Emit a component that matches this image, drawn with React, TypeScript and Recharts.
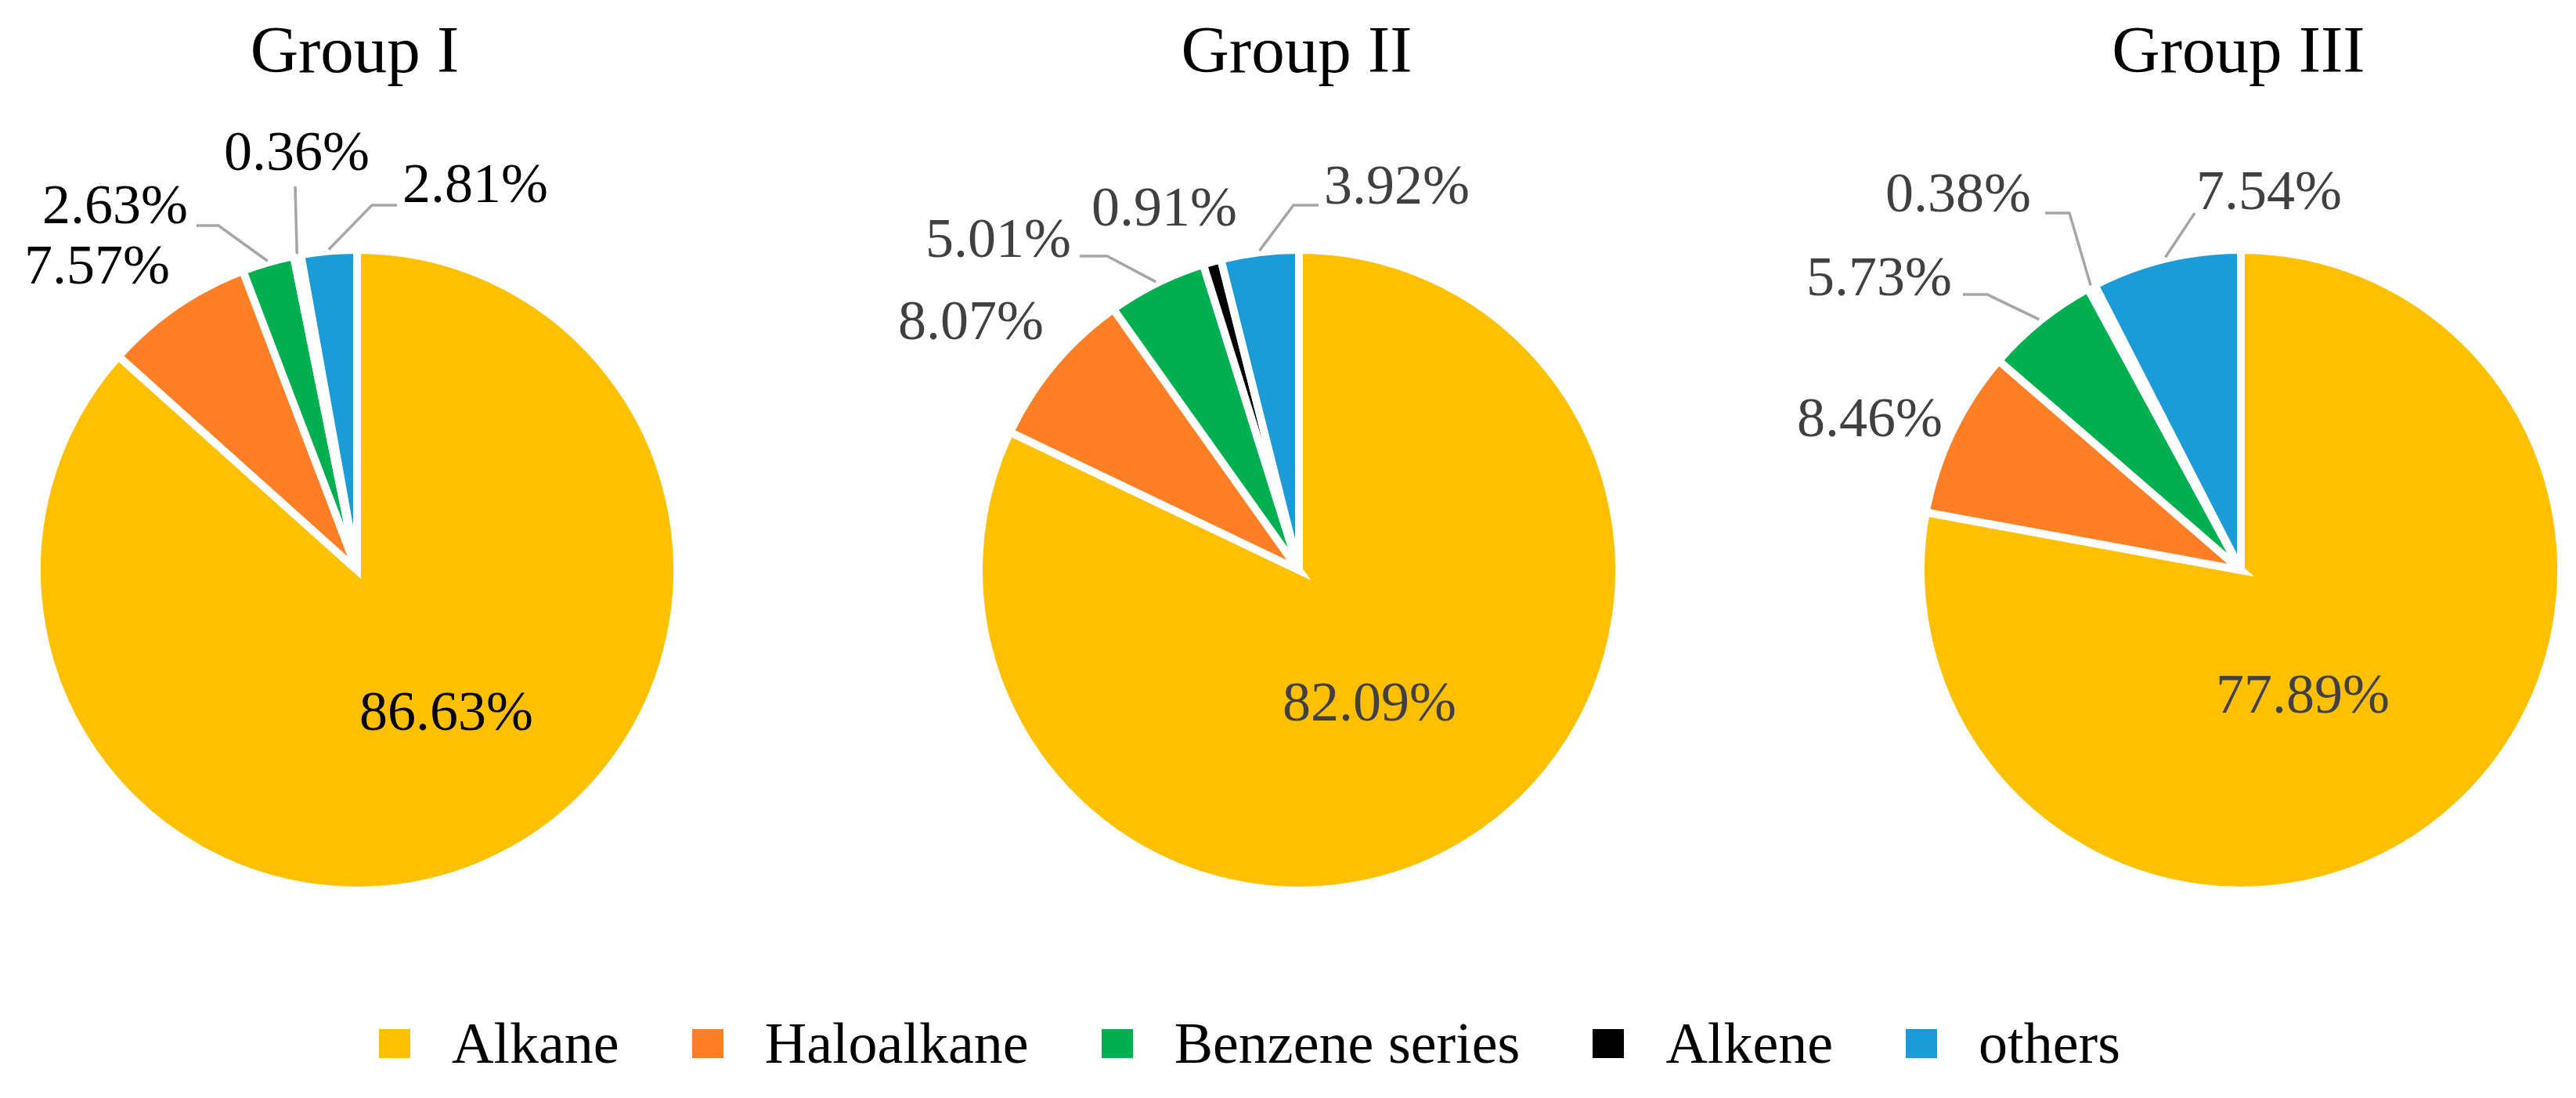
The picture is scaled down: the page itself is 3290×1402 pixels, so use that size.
import { PieChart, Pie, Cell, Legend } from "recharts";

const categories = ["Alkane", "Haloalkane", "Benzene series", "Alkene", "others"];
const colors = ["#FFC000", "#FF7F27", "#00B050", "#000000", "#1B9BD7"];
const groupNames = ["Group I", "Group II", "Group III"];
const groupI = [86.63, 7.57, 2.63, 0.36, 2.81];
const groupII = [82.09, 8.07, 5.01, 0.91, 3.92];
const groupIII = [77.89, 8.46, 5.73, 0.38, 7.54];

const W = 3290;
const H = 1402;
const FONT = "'Liberation Serif', 'Times New Roman', serif";
const RAD = Math.PI / 180;

// pie placement + label text colour
const pies = [
  { cx: 451, cy: 723, textColor: "#000000" },
  { cx: 1654, cy: 723, textColor: "#404040" },
  { cx: 2857, cy: 723, textColor: "#404040" },
];

type Callout = {
  at: [number, number];
  anchor: "start" | "middle" | "end";
  line?: [number, number][];
};

// hand-placed labels (offsets from pie centre), like the dragged Excel labels
const callouts: Callout[][] = [
  [
    { at: [114, 204], anchor: "middle" },
    { at: [-332, -366], anchor: "middle" },
    { at: [-216, -443], anchor: "end", line: [[-177, -440], [-205, -440]] },
    { at: [-77, -511], anchor: "middle", line: [[-79, -490]] },
    { at: [58, -470], anchor: "start", line: [[19, -466], [51, -466]] },
  ],
  [
    { at: [90, 192], anchor: "middle" },
    { at: [-419, -295], anchor: "middle" },
    { at: [-291, -400], anchor: "end", line: [[-245, -401], [-280, -401]] },
    { at: [-172, -440], anchor: "middle" },
    { at: [32, -468], anchor: "start", line: [[-7, -466], [25, -466]] },
  ],
  [
    { at: [79, 182], anchor: "middle" },
    { at: [-474, -171], anchor: "middle" },
    { at: [-369, -351], anchor: "end", line: [[-324, -352], [-355, -352]] },
    { at: [-268, -458], anchor: "end", line: [[-219, -456], [-250, -456]] },
    { at: [-57, -461], anchor: "start", line: [[-59, -456]] },
  ],
];

const fmt = (v: number) => `${v.toFixed(2)}%`;

function makeLabel(g: number) {
  const { textColor } = pies[g];
  return (props: any) => {
    const { cx, cy, midAngle, outerRadius, index, value } = props;
    const c = callouts[g][index];
    const edge = outerRadius + 2;
    const start = [cx + edge * Math.cos(-midAngle * RAD), cy + edge * Math.sin(-midAngle * RAD)];
    const pts = [start, ...(c.line || []).map(([x, y]) => [cx + x, cy + y])];
    return (
      <g>
        {c.line && (
          <polyline points={pts.map((p) => p.join(",")).join(" ")} fill="none" stroke="#A6A6A6" strokeWidth={3.5} />
        )}
        <text x={cx + c.at[0]} y={cy + c.at[1]} textAnchor={c.anchor} fontSize={72} fontFamily={FONT} fill={textColor}>
          {fmt(value)}
        </text>
      </g>
    );
  };
}

function LegendRow() {
  return (
    <div style={{ display: "flex", alignItems: "center", paddingLeft: 484, fontFamily: FONT, fontSize: 74, lineHeight: "82px", color: "#000" }}>
      {categories.map((name, i) => (
        <div key={name} style={{ display: "flex", alignItems: "center", marginLeft: i === 0 ? 0 : 93 }}>
          <span style={{ display: "inline-block", width: 40, height: 37, background: colors[i], marginRight: 53 }} />
          <span>{name}</span>
        </div>
      ))}
    </div>
  );
}

export default function App() {
  const series = [groupI, groupII, groupIII];
  return (
    <div style={{ position: "absolute", left: 0, top: 0, width: W, height: H, background: "#fff" }}>
      <PieChart width={W} height={H}>
        {series.map((vals, g) => (
          <Pie
            key={groupNames[g]}
            data={categories.map((name, i) => ({ name, value: vals[i] }))}
            dataKey="value"
            nameKey="name"
            cx={pies[g].cx}
            cy={pies[g].cy}
            outerRadius={409}
            startAngle={90}
            endAngle={-270}
            stroke="#ffffff"
            strokeWidth={10}
            label={makeLabel(g)}
            labelLine={false}
            isAnimationActive={false}
          >
            {vals.map((_, i) => (
              <Cell key={i} fill={colors[i]} />
            ))}
          </Pie>
        ))}
        <Legend content={() => <LegendRow />} wrapperStyle={{ left: 0, top: 1291, width: W }} />
      </PieChart>
      <svg width={W} height={140} style={{ position: "absolute", left: 0, top: 0 }}>
        {groupNames.map((t, g) => (
          <text key={t} x={pies[g].cx + 2} y={92} textAnchor="middle" fontSize={85} fontFamily={FONT} fill="#000">
            {t}
          </text>
        ))}
      </svg>
    </div>
  );
}
